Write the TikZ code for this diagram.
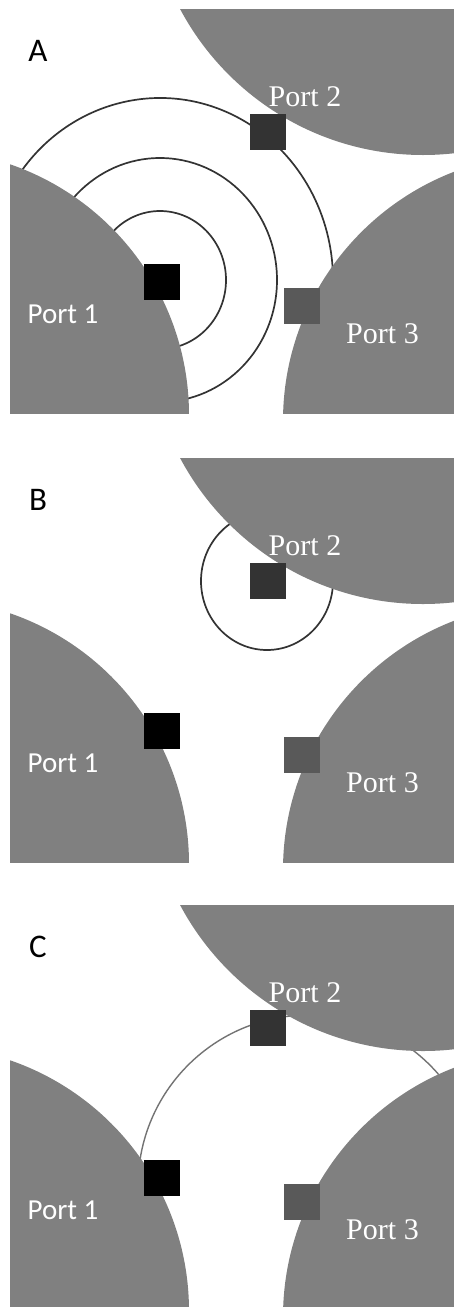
\documentclass[tikz,border=0pt]{standalone}
\usepackage{fontspec}
\newfontfamily\portsans{Carlito}
\newfontfamily\portserif{Liberation Serif}
\definecolor{PortGrey}{gray}{0.5}
\definecolor{PortDark}{gray}{0.2}
\definecolor{PortMid}{gray}{0.35}
\definecolor{RingGrey}{gray}{0.2}
\usetikzlibrary{calc}
\tikzset{
   portsq/.style={rectangle,minimum size=36pt,inner sep=0pt},
   sanslbl/.style={anchor=base,text=white,font=\portsans\fontsize{29}{29}\selectfont},
   seriflbl/.style={anchor=base,text=white,font=\portserif\fontsize{30}{30}\selectfont},
   panellbl/.style={anchor=base,font=\portsans\fontsize{33}{33}\selectfont},
}
% one panel: rings (#3) under the three ports, their squares and labels
\newcommand{\portpanel}[3]{%
  \begin{scope}[shift={(0,#2)}]
    \begin{scope}
      \clip (10,9) rectangle (454,413);
      #3
      \fill[PortGrey] (-76,415) circle (265);
      \fill[PortGrey] (423,-120) circle (275);
      \fill[PortGrey] (550,421) circle (267);
    \end{scope}
    \node[portsq,fill=black]    (#1p1) at (161.5,281.5) {};
    \node[portsq,fill=PortDark] (#1p2) at (268,132) {};
    \node[portsq,fill=PortMid]  (#1p3) at (302,305.5) {};
    \node[sanslbl]  (#1l1) at (63,323) {Port 1};
    \node[seriflbl] (#1l2) at (305,106) {Port 2};
    \node[seriflbl] (#1l3) at (382.5,343) {Port 3};
    \node[panellbl] (#1) at (38,61) {#1};
  \end{scope}}

\begin{document}
\begin{tikzpicture}[
						x=1pt,y=-1pt,
						ring/.style={draw=RingGrey,line width=1.7pt},
						thinring/.style={draw=gray!90!black,line width=1.4pt}
					]
					\useasboundingbox (0,0) rectangle (454,1307);

					\portpanel{A}{0}{%
						\coordinate (ringA) at (160,280);
						\foreach \rx/\ry in {66/69,117/122}
							\draw[ring] (ringA) ellipse [x radius=\rx, y radius=\ry];
						\draw[ring] ($(ringA)+(-150:173 and 182)$)
							arc [start angle=-150, end angle=0, x radius=173, y radius=182];
					}
					\portpanel{B}{449}{%
						\coordinate (ringB) at (267,132);
						\draw[ring] (ringB) ellipse [x radius=66, y radius=69];
					}
					\portpanel{C}{896}{%
						\coordinate (ringC) at (309,290);
						\draw[thinring] (ringC) circle (171);
					}
				\end{tikzpicture}
\end{document}
